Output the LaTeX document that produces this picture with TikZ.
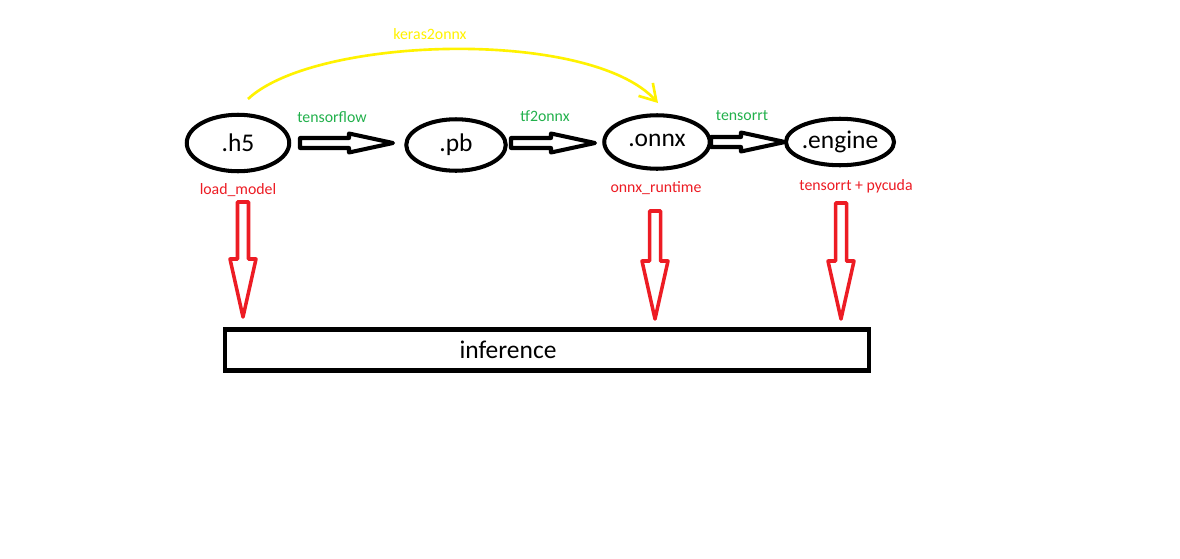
\documentclass[tikz,border=0pt]{standalone}
\usepackage{fontspec}
\setmainfont{Carlito}
\usepackage{tikz}
\usetikzlibrary{shapes.geometric,calc,arrows.meta}
\definecolor{paintgreen}{RGB}{34,177,76}
\definecolor{paintred}{RGB}{237,28,36}
\definecolor{paintyellow}{RGB}{255,242,0}
\newcommand{\bigtxt}{\fontsize{14.5}{16}\selectfont}
\newcommand{\smalltxt}{\fontsize{9}{10}\selectfont}
% hollow block arrows, from a start point to a tip
\newcommand{\fatright}[2]{\draw[blockarrow] ($(#1)+(0,-5)$) -- ($(#2)+(-44,-5)$) -- ($(#2)+(-44,-9.5)$) -- (#2) -- ($(#2)+(-44,9.5)$) -- ($(#2)+(-44,5)$) -- ($(#1)+(0,5)$) -- cycle;}
\newcommand{\fatdown}[2]{\draw[redblock] ($(#1)+(-5.5,0)$) -- ($(#2)+(-5.5,-58)$) -- ($(#2)+(-13,-58)$) -- (#2) -- ($(#2)+(13,-58)$) -- ($(#2)+(5.5,-58)$) -- ($(#1)+(5.5,0)$) -- cycle;}

\begin{document}
\begin{tikzpicture}[x=0.02cm,y=-0.02cm]
\tikzstyle{fmt}=[ellipse, draw=black, line width=2.3pt, inner sep=0pt, font=\bigtxt]
\tikzstyle{tool}=[text=paintgreen, font=\smalltxt]
\tikzstyle{runner}=[text=paintred, font=\smalltxt]
\tikzstyle{blockarrow}=[draw=black, line width=2.3pt, line join=round]
\tikzstyle{redblock}=[draw=paintred, line width=2pt, line join=round]
\useasboundingbox (0,0) rectangle (1180,558);
  \fill[white] (0,0) rectangle (1180,558);
  % model formats
  \node[fmt, minimum width=2.05cm, minimum height=1.13cm] (h5) at (238,143) {.h5};
  \node[fmt, minimum width=1.99cm, minimum height=1.03cm] (pb) at (456,145) {.pb};
  \node[fmt, minimum width=2.11cm, minimum height=1.07cm] (onnx) at (657,142) {\raisebox{2pt}{.onnx}};
  \node[fmt, minimum width=1.93cm, minimum height=0.93cm] (engine) at (840,142) {.engine};
  \node[rectangle, draw=black, line width=2.3pt, minimum width=12.9cm, minimum height=0.82cm, font=\bigtxt] (infer) at (547,350) {};
  \node[font=\bigtxt] (infertxt) at (508,350) {inference};
  % conversion tools
  \node[tool] (tf) at (332,117) {tensorflow};
  \node[tool] (tf2onnx) at (545,116) {tf2onnx};
  \node[tool] (trt) at (742,116) {tensorrt};
  \node[text=paintyellow, font=\smalltxt] (k2o) at (430,34) {keras2onnx};
  % runtimes
  \node[runner] (load) at (238,190) {load\_model};
  \node[runner] (ort) at (656,188) {onnx\_runtime};
  \node[runner] (pycuda) at (856,186) {tensorrt + pycuda};
  % arrow ends
  \coordinate (a1) at (300,143); \coordinate (b1) at (393,143);
  \coordinate (a2) at (511,143); \coordinate (b2) at (595,143);
  \coordinate (a3) at (711,142); \coordinate (b3) at (785,142);
  \coordinate (ks) at (248,99); \coordinate (ke) at (658,103);
  \coordinate (d1) at (243,202); \coordinate (e1) at (243,317);
  \coordinate (d2) at (655,211); \coordinate (e2) at (655,319);
  \coordinate (d3) at (841,203); \coordinate (e3) at (841,319);
  \fatright{a1}{b1}
  \fatright{a2}{b2}
  \fatright{a3}{b3}
  \draw[paintyellow, line width=1.5pt, -{Straight Barb[length=9pt,width=11pt,line width=1.5pt]}] (ks) .. controls (315,36) and (590,28) .. (ke);
  \fatdown{d1}{e1}
  \fatdown{d2}{e2}
  \fatdown{d3}{e3}
\end{tikzpicture}
\end{document}
